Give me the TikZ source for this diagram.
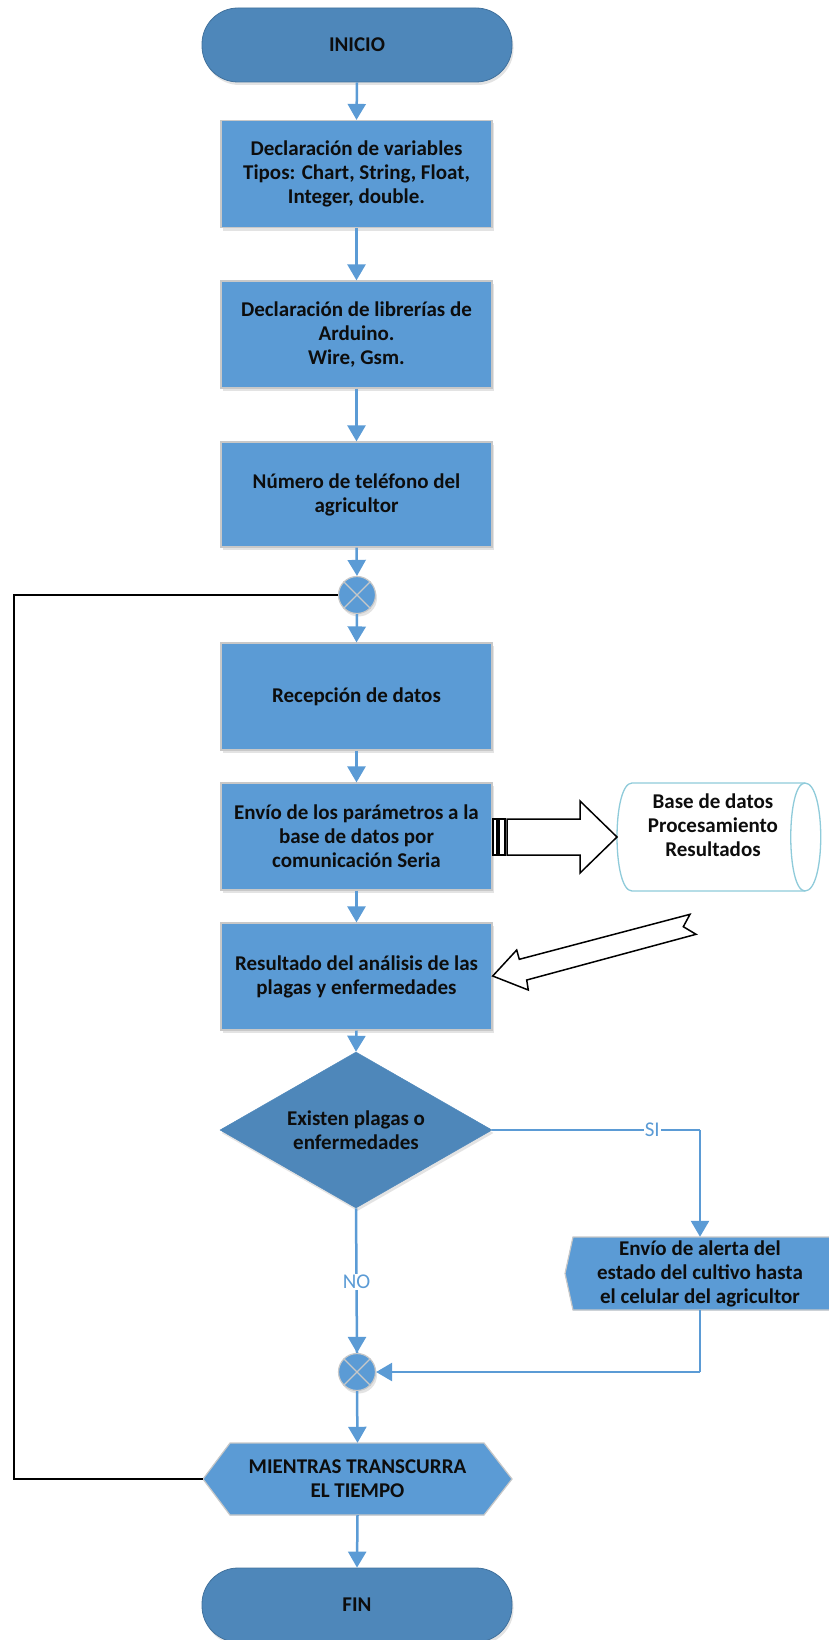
\documentclass[tikz,border=0pt]{standalone}
\usepackage{fontspec}
\setmainfont{Carlito}
\usetikzlibrary{arrows.meta,shapes.geometric,shadows}
\definecolor{boxblue}{HTML}{5B9BD5}
\definecolor{termblue}{HTML}{4E87BA}
\definecolor{termedge}{HTML}{41719C}
\definecolor{edgegray}{HTML}{C8C8C8}
\definecolor{dbedge}{HTML}{8FCBDA}
\definecolor{txt}{HTML}{0D0D0D}
\tikzset{
  softshadow/.style={drop shadow={shadow xshift=1.5pt, shadow yshift=-3pt, opacity=0.18, fill=black!60}},
  txtfont/.style={font=\bfseries\fontsize{21}{24}\selectfont, text=txt, align=center},
  procbox/.style={rectangle, fill=boxblue, draw=edgegray, line width=1.2pt, minimum width=271pt, minimum height=107pt, inner sep=0pt, txtfont, softshadow},
  termbox/.style={rectangle, rounded corners=36pt, fill=termblue, draw=termedge, line width=0.8pt, minimum width=310pt, minimum height=74pt, inner sep=0pt, txtfont, softshadow},
  decbox/.style={diamond, aspect=1.74, fill=termblue, draw=termblue, line width=0.5pt, minimum width=272pt, minimum height=156pt, inner sep=0pt, txtfont, softshadow},
  joinpt/.style={circle, fill=boxblue, draw=edgegray, line width=1.2pt, minimum size=37pt, inner sep=0pt, softshadow},
  anchorbox/.style={rectangle, inner sep=0pt, txtfont},
  conn/.style={draw=boxblue, line width=2.5pt, -{Triangle[length=16pt,width=18pt]}},
  connplain/.style={draw=boxblue, line width=2.5pt},
  loopline/.style={draw=black, line width=1.6pt},
  lbl/.style={font=\fontsize{21}{22}\selectfont, text=boxblue, fill=white, inner sep=1pt},
  blockarrow/.style={draw=black, fill=white, line width=1.5pt, line join=miter}
}
\begin{document}
\begin{tikzpicture}[x=1pt,y=-1pt]
\useasboundingbox (0,0) rectangle (829,1640);

% main column
\node[termbox] (ini) at (357,45) {INICIO};
\node[procbox] (b1) at (356.5,174) {Declaración de variables\\Tipos: Chart, String, Float,\\Integer, double.};
\node[procbox] (b2) at (356.5,334.5) {Declaración de librerías de\\Arduino.\\Wire, Gsm.};
\node[procbox, minimum height=105pt] (b3) at (356.5,494.5) {Número de teléfono del\\agricultor};
\node[joinpt] (c1) at (357,595) {};
\draw[edgegray, line width=1.2pt] (c1.45) -- (c1.225) (c1.135) -- (c1.315);
\node[procbox] (b4) at (356.5,696.5) {Recepción de datos};
\node[procbox] (b5) at (356.5,836.5) {Envío de los parámetros a la\\base de datos por\\comunicación Seria};
\node[procbox] (b6) at (356.5,976.5) {Resultado del análisis de las\\plagas y enfermedades};
\node[decbox] (dia) at (356,1130) {Existen plagas o\\enfermedades};

% alert box (display shape)
\begin{scope}[softshadow]
\fill[boxblue] (565,1273.5) -- (573,1237) -- (835,1237) -- (835,1310) -- (573,1310) -- cycle;
\end{scope}
\fill[boxblue] (565,1273.5) -- (573,1237) -- (835,1237) -- (835,1310) -- (573,1310) -- cycle;
\draw[edgegray, line width=1.2pt] (835,1237) -- (573,1237) -- (565,1273.5) -- (573,1310) -- (835,1310);
\node[anchorbox, minimum width=270pt, minimum height=73pt] (alert) at (700,1273.5) {Envío de alerta del\\estado del cultivo hasta\\el celular del agricultor};

\node[joinpt] (c2) at (357,1372) {};
\draw[edgegray, line width=1.2pt] (c2.45) -- (c2.225) (c2.135) -- (c2.315);

% hexagon (loop limit)
\begin{scope}[softshadow]
\fill[boxblue] (203,1479) -- (230,1443) -- (484,1443) -- (512,1479) -- (484,1515) -- (230,1515) -- cycle;
\end{scope}
\filldraw[fill=boxblue, draw=edgegray, line width=1.2pt] (203,1479) -- (230,1443) -- (484,1443) -- (512,1479) -- (484,1515) -- (230,1515) -- cycle;
\node[anchorbox, minimum width=309pt, minimum height=72pt] (hex) at (357.5,1479) {MIENTRAS TRANSCURRA\\EL TIEMPO};

\node[termbox] (fin) at (357,1605) {FIN};

% database (direct data)
\filldraw[fill=white, draw=dbedge, line width=1.3pt]
  (632,783) -- (805,783) .. controls (826,783) and (826,891) .. (805,891) -- (632,891)
  .. controls (612,891) and (612,783) .. (632,783) -- cycle;
\draw[dbedge, line width=1.3pt] (805,783) .. controls (786,783) and (786,891) .. (805,891);
\node[anchorbox, minimum width=203pt, minimum height=108pt] (db) at (718.5,837) {};
\node[txtfont] (dbtxt) at (713,825) {Base de datos\\Procesamiento\\Resultados};

% striped block arrow to database
\draw[blockarrow] (493,819) rectangle (497,855);
\draw[blockarrow] (499,819) rectangle (505,855);
\draw[blockarrow] (507,819) -- (580,819) -- (580,801) -- (617,837) -- (580,873) -- (580,855) -- (507,855) -- cycle;

% notched block arrow back to results box
\draw[blockarrow] (492.7,976) -- (516.7,950) -- (519.3,959.3) -- (690,914.3) -- (683.3,926.7)
  -- (696,934.3) -- (526.7,980) -- (528.3,990) -- cycle;

% connectors
\draw[conn] (ini.south) -- (b1.north);
\draw[conn] (b1.south) -- (b2.north);
\draw[conn] (b2.south) -- (b3.north);
\draw[conn] (b3.south) -- (c1.north);
\draw[conn] (c1.south) -- (b4.north);
\draw[conn] (b4.south) -- (b5.north);
\draw[conn] (b5.south) -- (b6.north);
\draw[conn] (b6.south) -- (dia.north);

\coordinate (sicorner) at (700,1130);
\draw[connplain] (dia.east) -- node[lbl, pos=0.77] {SI} (sicorner);
\draw[conn] (sicorner) -- (alert.north);

\draw[connplain] (dia.south) -- node[lbl, pos=0.51] {NO} (c2.north);
\draw[conn] ([yshift=10pt]c2.north) -- (c2.north);

\coordinate (retcorner) at (700,1372);
\draw[connplain] (alert.south) -- (retcorner);
\draw[conn] (retcorner) -- (c2.east);

\draw[conn] (c2.south) -- (hex.north);
\draw[conn] (hex.south) -- (fin.north);

% loop back
\coordinate (loopbot) at (14,1479);
\coordinate (looptop) at (14,595);
\draw[loopline] (hex.west) -- (loopbot) -- (looptop) -- (c1.west);
\end{tikzpicture}
\end{document}
